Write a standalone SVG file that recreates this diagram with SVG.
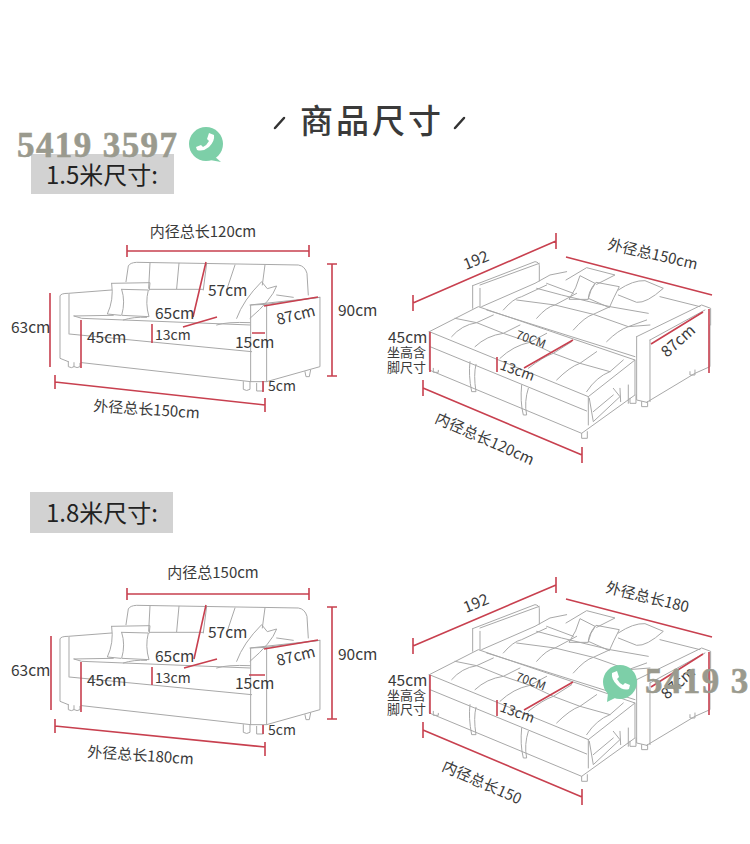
<svg xmlns="http://www.w3.org/2000/svg" width="750" height="844" viewBox="0 0 750 844">
<style>
text{font-family:"Noto Sans CJK SC","Liberation Sans",sans-serif;fill:#3a3a3a}
.a{fill:none;stroke:#a8a8a8;stroke-width:3;stroke-linejoin:round;stroke-linecap:round}
.r{fill:none;stroke:#c8404f;stroke-width:1.6;stroke-linecap:butt}
.t{font-size:15px}.s{font-size:14px}.m{font-size:15.5px}.c{font-size:13px}
.wm{font-family:"Liberation Serif",serif;font-weight:700;font-size:35px;fill:#9a9a8e;stroke:#9a9a8e;stroke-width:.6;letter-spacing:1.4px}
.lab{font-size:24px;fill:#222}
</style>
<defs>
<g id="sofaArt" class="a">
<path d="M378 215L385 168Q390 158 410 157L895 165Q915 168 921 190L925 255"/>
<path d="M450 160L446 235M537 160L530 236M620 160L610 240M705 165L680 240M795 165L787 225M450 238H610"/>
<path d="M335 240L205 250Q182 250 180 258V445L205 455M207 252V370M207 372L755 425M245 458L752 515M222 318L245 325L750 345M222 318L340 316M370 330Q400 320 440 322M650 345Q680 335 750 338"/>
<path d="M750 285L960 262V470L800 515H752V285L800 283V515M800 283L960 262"/>
<path d="M205 455V470Q215 476 222 470V458M222 470Q232 476 240 470V460M730 515V538Q740 545 750 538V517M770 520V543H790V518M915 485L918 500H928L932 480"/>
<path d="M335 220L450 218L448 240M335 220Q342 270 322 312L362 316M365 238L445 240Q435 280 447 320L365 316Q377 275 365 238"/>
<path d="M710 325Q730 270 785 215L802 236L830 228Q815 270 750 325M830 255L880 262"/>
</g>
<g id="bedArt" class="a">
<path d="M278 182L465 110Q478 112 478 122V168M278 182V250M300 190V245M300 180L478 115"/>
<path d="M148 320L295 245L765 405L625 515L148 320ZM150 365L620 558M625 515V600M148 320V435L160 440L605 625L765 510V405"/>
<path d="M215 335Q245 300 290 293L340 270M285 365Q320 332 370 325L420 300M360 400Q400 362 450 352L500 325M445 430Q490 395 520 385L575 350M530 465Q570 425 600 415L650 380M620 500Q650 455 690 440L730 405M225 280L290 293L370 325L450 352L520 385L600 415L690 440"/>
<path d="M270 410Q265 450 275 500H288Q280 450 288 418M425 480Q420 530 430 570H440Q432 530 445 490"/>
<path d="M160 430V442H175V436M605 625V640H622V620M750 520V535H768V510M785 530V545H803V530M930 440V450H945V435"/>
<path d="M628 520L640 590L720 515L700 490M640 560L700 510M720 490L722 530M745 480V535"/>
<path d="M305 245L465 175L510 150L560 140M320 255L765 395"/>
<path d="M370 255Q400 220 425 215L500 180M470 280Q500 245 525 240L590 205M580 315Q615 275 640 268L690 245M680 350Q715 315 745 305L800 285M410 225L525 240L640 268L745 305L810 300M470 190L545 210L690 245L805 265M500 175L580 205"/>
<path d="M770 335L965 240L992 250V300M770 335V525L800 532M810 345V530M800 532L945 445L990 425V300M810 345L975 255M840 215L960 245"/>
<path d="M558 165L620 128L705 150L650 178M568 222Q590 190 600 152L645 175Q625 200 625 222ZM625 220Q630 195 648 172L718 185Q700 220 688 248L625 220M715 195Q760 165 795 167L850 190Q800 235 770 232L715 210"/>
</g>
<g id="icon"><circle r="17" fill="#7dcfa8"/></g>
</defs>

<g id="title"><text x="300" y="133" style="font-size:33px;font-weight:500" letter-spacing="3" fill="#444">商品尺寸</text>
<path d="M275 128L284 118M455 128L464 118" fill="none" stroke="#333" stroke-width="2.5" stroke-linecap="round"/></g>

<g id="label15"><rect x="31" y="154" width="143" height="40" fill="#d2d2d2"/><text class="lab" x="46" y="184">1.5米尺寸:</text></g>
<g id="label18"><rect x="30" y="492" width="143" height="41" fill="#d2d2d2"/><text class="lab" x="46" y="522">1.8米尺寸:</text></g>

<g id="sofa15" transform="translate(0 210) scale(.3333)"><use href="#sofaArt"/></g>
<g id="bed15" transform="translate(380 225) scale(.3333)"><use href="#bedArt"/></g>
<g id="sofa18" transform="translate(0 553) scale(.3333)"><use href="#sofaArt"/></g>
<g id="bed18" transform="translate(380 568) scale(.3333)"><use href="#bedArt"/></g>

<g id="connectors" class="r">
<path d="M127 251H309M127 245V257M309 245V257M327 264H337M332 264V376M327 376H337M50 293V367M81 320V368M152 324V343M263 381V392M206 262L193 317M183 327L217 317M252 333H265M264 306L318 297M55 382L265 405M55 375V389M265 398V412"/>
<path d="M413 303L556 241M413 295V311M556 233V249M566 257L712 295M651 344L703 312M709 309V373M430 332V372M497 357V372M524 368L573 340M423 388L582 455M423 380V396M582 447V463"/>
<path d="M127 594H309M127 588V600M309 588V600M327 607H337M332 607V719M327 719H337M51 636V710M81 662V712M152 667V685M263 725V734M206 605L194 659M184 668L217 659M249 675H265M264 649L318 640M55 726L265 747M55 719V733M265 742V756"/>
<path d="M413 646L556 585M413 638V654M556 577V593M566 599L712 637M651 687L703 654M709 652V715M430 675V714M497 700V716M524 710L573 682M423 730L582 797M423 722V738M582 789V805"/>
</g>

<g id="labels15">
<text class="t" x="203" y="237" text-anchor="middle">内径总长120cm</text>
<text class="m" x="208" y="296">57cm</text><text class="m" x="155" y="319">65cm</text>
<text class="s" x="155" y="340">13cm</text><text class="m" x="87" y="343">45cm</text>
<text class="m" x="235" y="348">15cm</text><text class="m" transform="translate(278 325) rotate(-14)">87cm</text>
<text class="m" x="338" y="316">90cm</text><text class="m" x="11" y="333">63cm</text><text class="s" x="268" y="391">5cm</text>
<text class="t" transform="translate(93 411) rotate(4)">外径总长150cm</text>
<text class="m" transform="translate(466 270) rotate(-22)">192</text>
<text class="t" transform="translate(607 249) rotate(13)">外径总150cm</text>
<text class="m" transform="translate(667 358) rotate(-42)">87cm</text>
<text class="m" x="388" y="343">45cm</text><text class="c" x="387" y="357">坐高含</text><text class="c" x="387" y="372">脚尺寸</text>
<text style="font-size:12px" transform="translate(515 338) rotate(20)">70CM</text>
<text class="s" transform="translate(499 369) rotate(20)">13cm</text>
<text class="t" transform="translate(434 422) rotate(24)">内径总长120cm</text>
</g>
<g id="labels18">
<text class="t" x="213" y="578" text-anchor="middle">内径总150cm</text>
<text class="m" x="208" y="638">57cm</text><text class="m" x="155" y="662">65cm</text>
<text class="s" x="155" y="683">13cm</text><text class="m" x="87" y="686">45cm</text>
<text class="m" x="235" y="689">15cm</text><text class="m" transform="translate(278 666) rotate(-14)">87cm</text>
<text class="m" x="338" y="660">90cm</text><text class="m" x="11" y="676">63cm</text><text class="s" x="268" y="735">5cm</text>
<text class="t" transform="translate(87 757) rotate(4)">外径总长180cm</text>
<text class="m" transform="translate(466 613) rotate(-22)">192</text>
<text class="t" transform="translate(605 592) rotate(14)">外径总长180</text>
<text class="m" transform="translate(667 700) rotate(-42)">87cm</text>
<text class="m" x="388" y="686">45cm</text><text class="c" x="387" y="700">坐高含</text><text class="c" x="387" y="714">脚尺寸</text>
<text style="font-size:12px" transform="translate(515 680) rotate(20)">70CM</text>
<text class="s" transform="translate(499 711) rotate(20)">13cm</text>
<text class="t" transform="translate(441 770) rotate(24)">内径总长150</text>
</g>

<g id="watermark1"><text class="wm" x="17" y="157">5419 3597</text>
<g transform="translate(206 144)"><use href="#icon"/><path d="M8 12L15 18L4 16Z" fill="#7dcfa8"/><path d="M-9 6Q-3 8 3 3Q9 -3 8 -9L3 -11L1 -5L3 -3Q1 1 -3 3L-5 1L-10 3Z" fill="#fff"/></g></g>
<g id="watermark2"><text class="wm" x="645" y="693">5419 3</text>
<g transform="translate(620 682)"><use href="#icon"/><path d="M-12 11L-13 20L-3 15Z" fill="#7dcfa8"/><path d="M9 7Q3 9 -3 3Q-9 -3 -8 -9L-3 -11L-1 -5L-3 -3Q-1 1 3 3L5 1L10 3Z" fill="#fff"/></g></g>
</svg>
